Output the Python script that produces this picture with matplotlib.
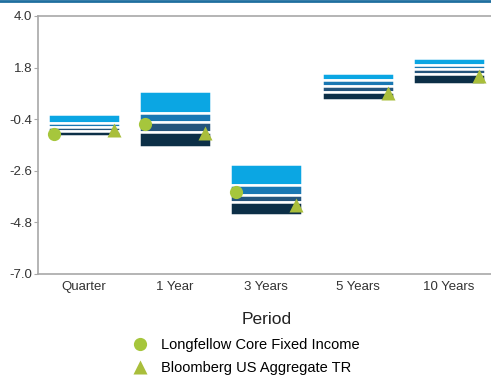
import numpy as np
import matplotlib
matplotlib.use("Agg")
import matplotlib.pyplot as plt
from matplotlib.lines import Line2D

plt.rcParams['font.family'] = ['Liberation Sans', 'DejaVu Sans']

# ---- data ----
periods = ["Quarter", "1 Year", "3 Years", "5 Years", "10 Years"]
p05 = [-0.20, 0.80, -2.33, 1.55, 2.22]
p25 = [-0.57, -0.13, -3.21, 1.25, 1.90]
p50 = [-0.74, -0.54, -3.65, 1.03, 1.72]
p75 = [-0.90, -0.95, -3.92, 0.76, 1.52]
p95 = [-1.12, -1.58, -4.48, 0.40, 1.12]
fund = [-1.05, -0.62, -3.52, np.nan, np.nan]
bench = [-0.88, -1.00, -4.08, 0.70, 1.44]

fund_name = "Longfellow Core Fixed Income"
bench_name = "Bloomberg US Aggregate TR"
y_ticks = [4.0, 1.8, -0.4, -2.6, -4.8, -7.0]

seg_colors = ['#0ba6e3', '#1a78b3', '#25557c', '#0c2f47']
green_c = '#a6c63c'
green_t = '#a9be3b'
grey = '#a8a8a8'

fig = plt.figure(figsize=(4.91, 3.80), dpi=100)
ax = fig.add_axes([0.0774, 0.279, 0.93, 0.679])

x = np.arange(len(periods))
bounds = [p05, p25, p50, p75, p95]
for i in range(4):
    top = np.array(bounds[i])
    bot = np.array(bounds[i + 1])
    ax.bar(x, top - bot, bottom=bot, width=0.79, color=seg_colors[i],
           edgecolor='white', linewidth=1.8, zorder=2)

ax.plot(x - 0.33, fund, 'o', color=green_c, ms=9.5, mec='none', zorder=4)
ax.plot(x + 0.33, bench, '^', color=green_t, ms=10, mec='none', zorder=4)

ax.set_xlim(-0.5, 4.5)
ax.set_ylim(-7.0, 4.0)
ax.set_yticks(y_ticks)
ax.set_yticklabels([f"{v:.1f}" for v in y_ticks])
ax.set_xticks(x)
ax.set_xticklabels(periods)
ax.tick_params(axis='both', labelsize=9.5, colors='#333333', length=3, width=0.8, pad=1)
ax.tick_params(axis='x', length=0, pad=5)
ax.tick_params(axis='y', color=grey)
for s in ax.spines.values():
    s.set_color(grey)
    s.set_linewidth(1.2)
ax.spines['right'].set_visible(False)
ax.set_xlabel("Period", fontsize=12.5, color='#222222', labelpad=14)

handles = [Line2D([], [], marker='o', ls='none', color=green_c, ms=9.5, mec='none'),
           Line2D([], [], marker='^', ls='none', color=green_t, ms=10, mec='none')]
fig.legend(handles, [fund_name, bench_name], loc='upper left',
           bbox_to_anchor=(0.241, 0.13), frameon=False, fontsize=10.5,
           handletextpad=0.4, labelspacing=0.62, borderpad=0)

# thin blue rule at the very top
fig.add_artist(Line2D([0, 1], [0.997, 0.997], color='#1f6f9f', lw=2.0))

fig.savefig("out.png", dpi=100)
